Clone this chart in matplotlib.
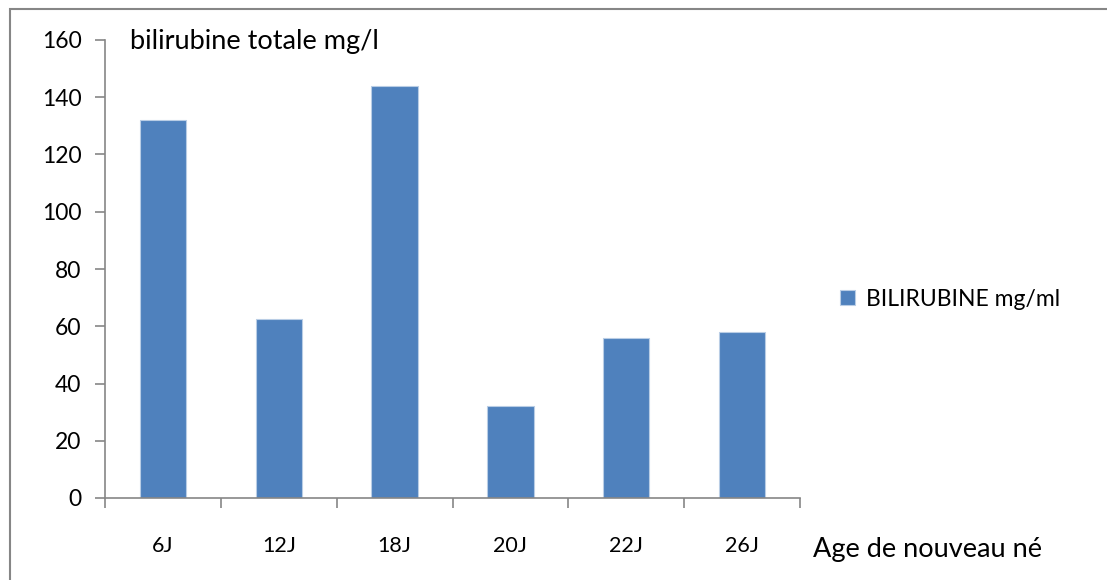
"""Bar chart of total bilirubin by newborn age."""
import matplotlib

matplotlib.use("Agg")
import matplotlib.pyplot as plt
from matplotlib.patches import Rectangle
import numpy as np

ages = ["6J", "12J", "18J", "20J", "22J", "26J"]
bilirubine = [132, 62.5, 144, 32, 56, 58]
y_ticks = [0, 20, 40, 60, 80, 100, 120, 140, 160]

BAR = "#4F81BD"
AXIS = "#868686"

plt.rcParams["font.family"] = ["Lato", "DejaVu Sans"]

fig = plt.figure(figsize=(11.07, 5.80), dpi=100)
ax = fig.add_axes([105 / 1107, 1 - 498 / 580, 695 / 1107, 458 / 580])

x = np.arange(len(ages))
ax.bar(x, bilirubine, width=0.4, color=BAR, edgecolor="#B9CDE5", linewidth=0.8,
       label="BILIRUBINE mg/ml", zorder=2)

ax.set_xlim(-0.5, len(ages) - 0.5)
ax.set_ylim(0, 160)
ax.set_yticks(y_ticks)
ax.tick_params(axis="y", labelsize=16.5, length=7, width=1.2, color=AXIS, pad=10)

# category boundaries carry the tick marks, names sit between them
ax.set_xticks(np.arange(-0.5, len(ages)), minor=False)
ax.set_xticklabels([])
ax.set_xticks(x, minor=True)
ax.set_xticklabels(ages, minor=True)
ax.tick_params(axis="x", which="major", length=7, width=1.2, color=AXIS)
ax.tick_params(axis="x", which="minor", length=0, labelsize=15.5, pad=27)

for side in ("top", "right"):
    ax.spines[side].set_visible(False)
for side in ("left", "bottom"):
    ax.spines[side].set_color(AXIS)
    ax.spines[side].set_linewidth(1.2)

fig.text(130 / 1107, 1 - 42 / 580, "bilirubine totale mg/l", fontsize=19.5,
         va="center", ha="left")
fig.text(813 / 1107, 1 - 550 / 580, "Age de nouveau né", fontsize=19.5,
         va="center", ha="left")

fig.legend(loc="center left", bbox_to_anchor=(819 / 1107, 1 - 299 / 580),
           frameon=False, fontsize=16.5, handlelength=0.65, handleheight=0.65,
           handletextpad=0.5)

# chart-area border
fig.patches.append(Rectangle((10 / 1107, -0.05), 1.2, 1.05 - 9 / 580,
                             transform=fig.transFigure, fill=False,
                             edgecolor=AXIS, linewidth=1.5))

fig.savefig("out.png", dpi=100)
